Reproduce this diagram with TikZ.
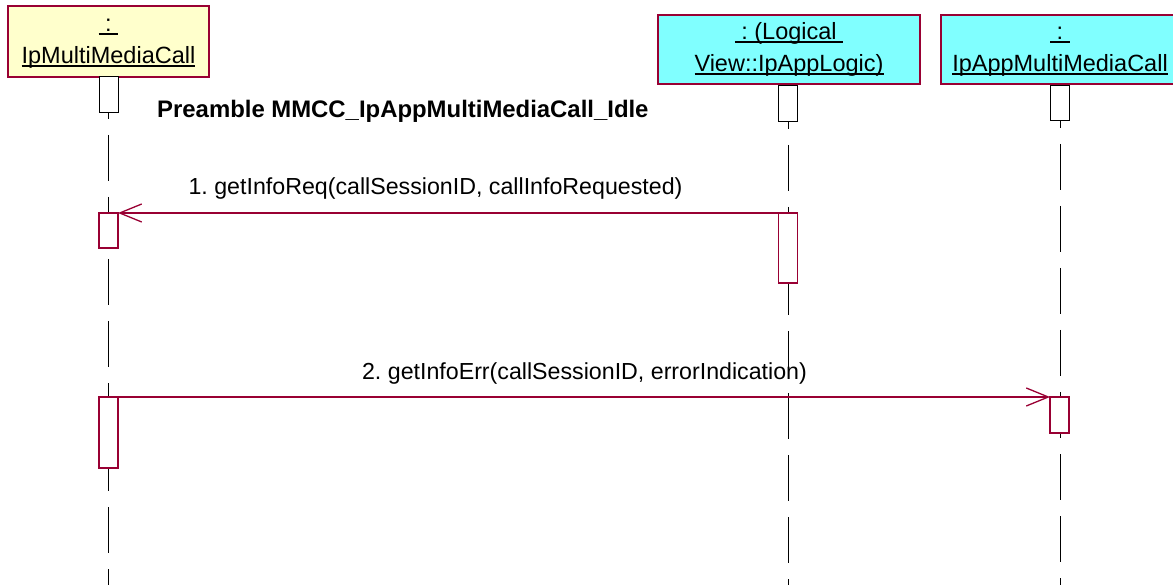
\documentclass[tikz,border=0pt]{standalone}
\usepackage{fontspec}
\setmainfont{Liberation Sans}
\usetikzlibrary{arrows.meta}
\definecolor{umlred}{RGB}{153,0,51}
\definecolor{objyellow}{RGB}{255,255,204}
\definecolor{objcyan}{RGB}{128,255,255}
\newcommand\ulx[1]{\leavevmode\setbox0\hbox{#1}\rlap{\rule[-3pt]{\wd0}{1.4pt}}\box0}
\frenchspacing
\begin{document}
\begin{tikzpicture}[x=1pt,y=-1pt,
  objbox/.style={draw=umlred, line width=1.2pt, inner sep=0pt, outer sep=0pt, align=center,
    font=\fontsize{23.5}{32}\selectfont},
  topact/.style={draw=black, fill=white, line width=1pt, inner sep=0pt, outer sep=0pt, minimum width=19pt},
  act/.style={draw=umlred, fill=white, line width=1.3pt, inner sep=0pt, outer sep=0pt, minimum width=19pt},
  lifeline/.style={draw=black, line width=0.9pt, dash pattern=on 46pt off 16pt},
  msg/.style={draw=umlred, line width=1.3pt, -{Straight Barb[length=22pt,width=18pt]}},
  msglabel/.style={font=\fontsize{23.2}{28}\selectfont\frenchspacing, anchor=base, inner sep=0pt}]
\useasboundingbox (0,0) rectangle (1173,585);

% object boxes
\node[objbox, fill=objyellow, minimum width=201pt, minimum height=71pt] (o1) at (108.5,41.5)
  {\vphantom{(}\ulx{\ :\ }\\\vphantom{(}\ulx{IpMultiMediaCall}};
\node[objbox, fill=objcyan, minimum width=262pt, minimum height=69pt] (o2) at (789,49.5)
  {\vphantom{(}\ulx{\ :\ (Logical\ }\\\vphantom{(}\ulx{View::IpAppLogic)}};
\node[objbox, fill=objcyan, minimum width=238pt, minimum height=69pt] (o3) at (1060,49.5)
  {\vphantom{(}\ulx{\ :\ }\\\vphantom{(}\ulx{IpAppMultiMediaCall}};

% top activation boxes
\node[topact, minimum height=36pt] (t1) at (108.5,95) {};
\node[topact, minimum height=36pt] (t2) at (788,104) {};
\node[topact, minimum height=35pt] (t3) at (1060,103.5) {};

% lifelines
\coordinate (e1) at (108.5,585);
\coordinate (e2) at (788,585);
\coordinate (e3) at (1060,585);
\draw[lifeline, dash phase=40pt] (t1.south) -- (e1);
\draw[lifeline, dash phase=39pt] (t2.south) -- (e2);
\draw[lifeline, dash phase=39pt] (t3.south) -- (e3);

% title
\node[msglabel, anchor=base west, font=\fontsize{23.9}{28}\selectfont\bfseries] (pre) at (157,118)
  {Preamble MMCC\_IpAppMultiMediaCall\_Idle};

% activations
\node[act, minimum height=35pt] (a1a) at (108.5,230.5) {};
\node[act, minimum height=70pt] (a2a) at (788,248) {};
\node[act, minimum height=71pt] (a1b) at (108.5,432.5) {};
\node[act, minimum height=36pt] (a3b) at (1059.5,415) {};

% messages
\draw[msg] (a2a.north west) -- (a1a.north east);
\node[msglabel] (l1) at (435.5,195) {1. getInfoReq(callSessionID, callInfoRequested)};
\draw[msg] (a1b.north east) -- (a3b.north west);
\node[msglabel] (l2) at (584.5,380) {2. getInfoErr(callSessionID, errorIndication)};
\end{tikzpicture}
\end{document}
